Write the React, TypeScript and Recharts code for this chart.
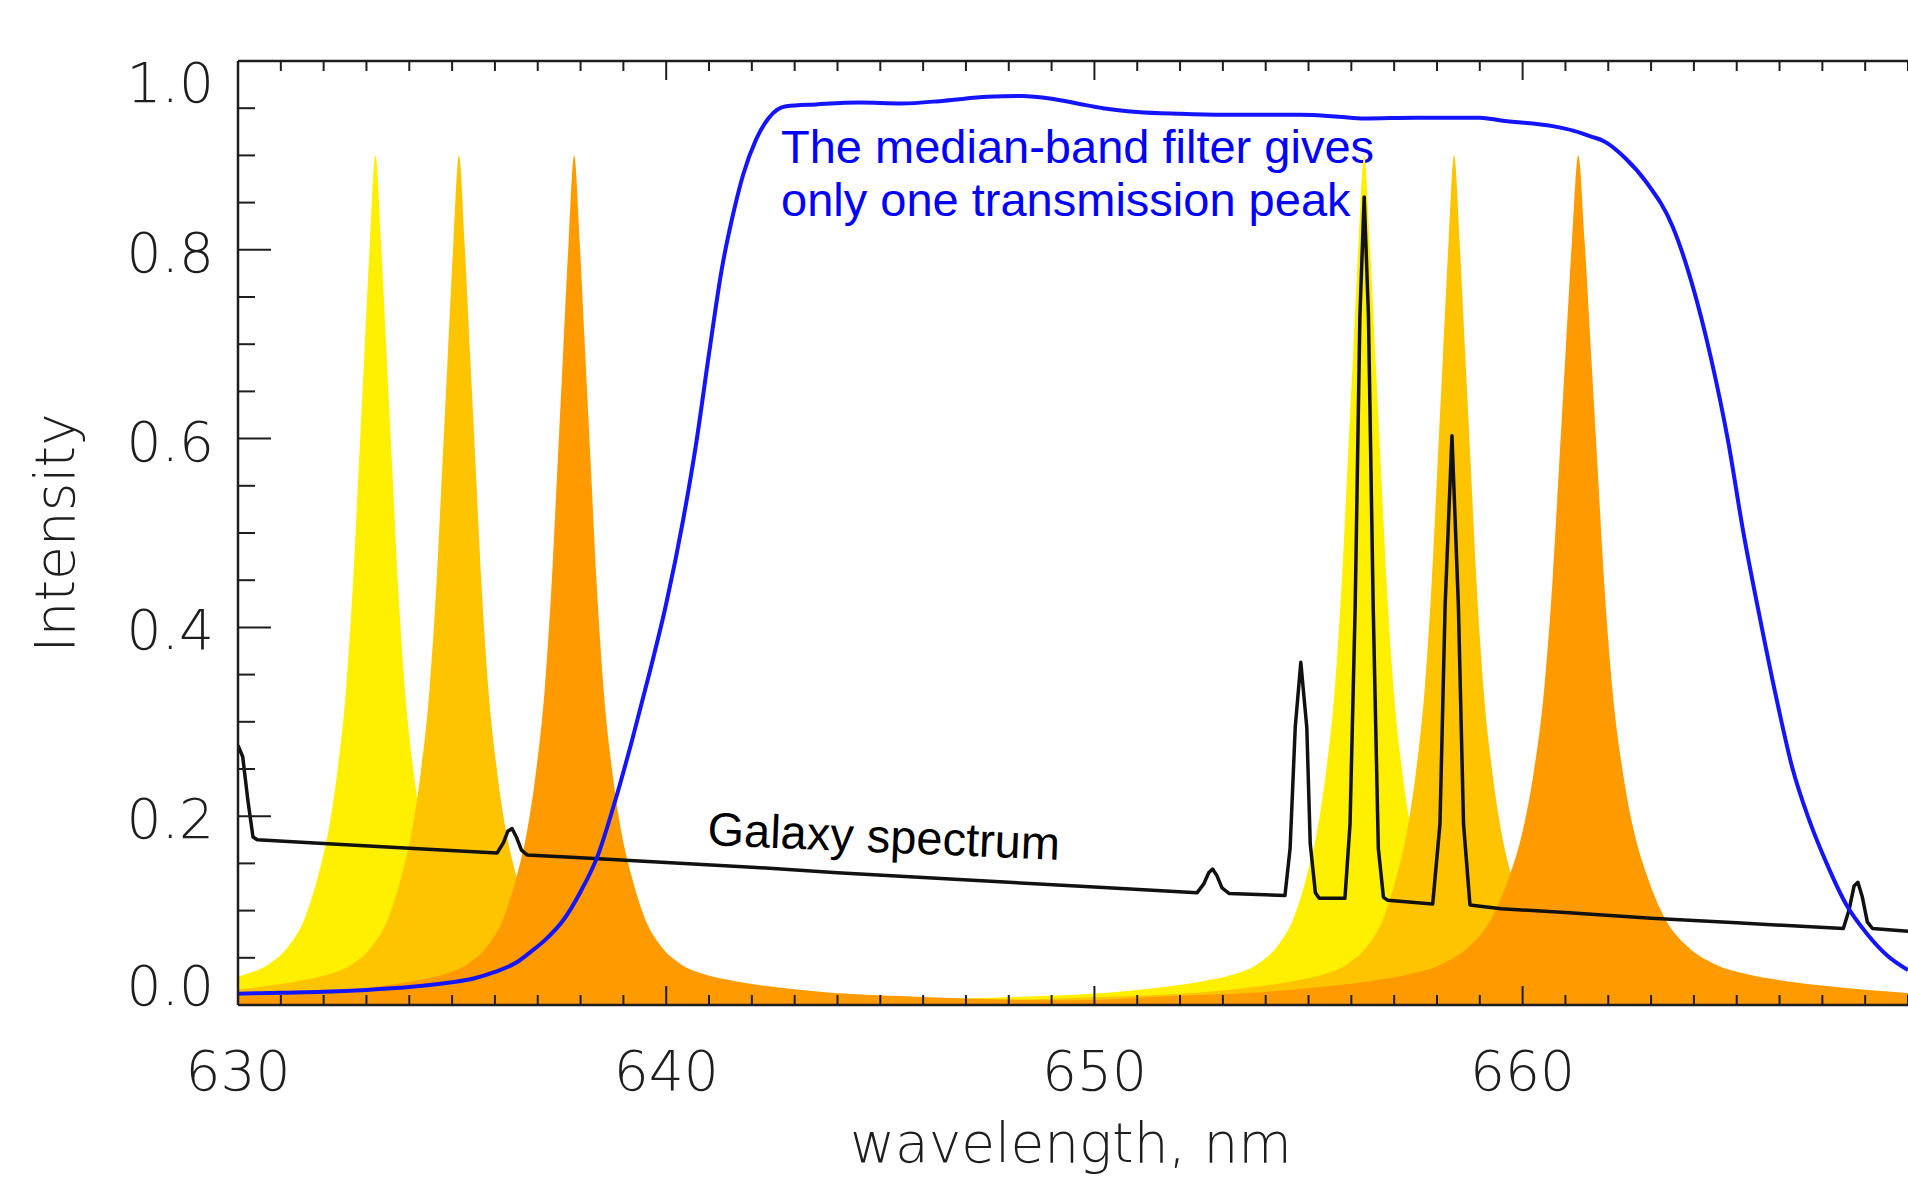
import React from 'react';
import { ComposedChart, Area, Line, XAxis, YAxis } from 'recharts';

// ---------- tick labels ----------
const wavelengthTicks = [
  630, 631, 632, 633, 634, 635, 636, 637, 638, 639,
  640, 641, 642, 643, 644, 645, 646, 647, 648, 649,
  650, 651, 652, 653, 654, 655, 656, 657, 658, 659,
  660, 661, 662, 663, 664, 665, 666, 667, 668, 669,
];
const wavelengthMajor = [630, 640, 650, 660];
const intensityTicks = [
  0, 0.05, 0.1, 0.15, 0.2, 0.25, 0.3, 0.35, 0.4, 0.45, 0.5,
  0.55, 0.6, 0.65, 0.7, 0.75, 0.8, 0.85, 0.9, 0.95, 1,
];
const intensityMajor = [0, 0.2, 0.4, 0.6, 0.8, 1];

// ---------- series values: [wavelength nm, intensity] ----------
const yellowOrders: [number, number][] = [
  [627.21, 0.013], [628.71, 0.02], [629.41, 0.025], [630.21, 0.033], [630.71, 0.043],
  [631.21, 0.064], [631.56, 0.092], [631.86, 0.135], [632.11, 0.184], [632.31, 0.244],
  [632.52, 0.333], [632.69, 0.451], [632.82, 0.57], [632.95, 0.689], [633.08, 0.808],
  [633.21, 0.9], [633.34, 0.808], [633.47, 0.689], [633.6, 0.57], [633.73, 0.451],
  [633.9, 0.333], [634.11, 0.244], [634.31, 0.184], [634.56, 0.135], [634.86, 0.092],
  [635.21, 0.064], [635.71, 0.043], [636.21, 0.033], [637.01, 0.025], [637.71, 0.02],
  [639.21, 0.013], [640.81, 0.0095], [644.75, 0.005], [648.7, 0.0095], [650.3, 0.013],
  [651.8, 0.02], [652.5, 0.025], [653.3, 0.033], [653.8, 0.043], [654.3, 0.064],
  [654.65, 0.092], [654.95, 0.135], [655.2, 0.184], [655.4, 0.244], [655.61, 0.333],
  [655.78, 0.451], [655.91, 0.57], [656.04, 0.689], [656.17, 0.808], [656.3, 0.9],
  [656.43, 0.808], [656.56, 0.689], [656.69, 0.57], [656.82, 0.451], [656.99, 0.333],
  [657.2, 0.244], [657.4, 0.184], [657.65, 0.135], [657.95, 0.092], [658.3, 0.064],
  [658.8, 0.043], [659.3, 0.033], [660.1, 0.025], [660.8, 0.02], [662.3, 0.013],
  [663.9, 0.0095], [667.8, 0.005], [670.0, 0.0045],
];

const goldOrders: [number, number][] = [
  [627.56, 0.0095], [629.16, 0.013], [630.66, 0.02], [631.36, 0.025], [632.16, 0.033],
  [632.66, 0.043], [633.16, 0.064], [633.51, 0.092], [633.81, 0.135], [634.06, 0.184],
  [634.26, 0.244], [634.47, 0.333], [634.64, 0.451], [634.77, 0.57], [634.9, 0.689],
  [635.03, 0.808], [635.16, 0.9], [635.29, 0.808], [635.42, 0.689], [635.55, 0.57],
  [635.68, 0.451], [635.85, 0.333], [636.06, 0.244], [636.26, 0.184], [636.51, 0.135],
  [636.81, 0.092], [637.16, 0.064], [637.66, 0.043], [638.16, 0.033], [638.96, 0.025],
  [639.66, 0.02], [641.16, 0.013], [642.76, 0.0095], [646.78, 0.005], [650.8, 0.0095],
  [652.4, 0.013], [653.9, 0.02], [654.6, 0.025], [655.4, 0.033], [655.9, 0.043],
  [656.4, 0.064], [656.75, 0.092], [657.05, 0.135], [657.3, 0.184], [657.5, 0.244],
  [657.71, 0.333], [657.88, 0.451], [658.01, 0.57], [658.14, 0.689], [658.27, 0.808],
  [658.4, 0.9], [658.53, 0.808], [658.66, 0.689], [658.79, 0.57], [658.92, 0.451],
  [659.09, 0.333], [659.3, 0.244], [659.5, 0.184], [659.75, 0.135], [660.05, 0.092],
  [660.4, 0.064], [660.9, 0.043], [661.4, 0.033], [662.2, 0.025], [662.9, 0.02],
  [664.4, 0.013], [666.0, 0.0095], [670.0, 0.006],
];

const orangeOrders: [number, number][] = [
  [626.35, 0.005], [630.25, 0.0095], [631.85, 0.013], [633.35, 0.02], [634.05, 0.025],
  [634.85, 0.033], [635.35, 0.043], [635.85, 0.064], [636.2, 0.092], [636.5, 0.135],
  [636.75, 0.184], [636.95, 0.244], [637.16, 0.333], [637.33, 0.451], [637.46, 0.57],
  [637.59, 0.689], [637.72, 0.808], [637.85, 0.9], [637.98, 0.808], [638.11, 0.689],
  [638.24, 0.57], [638.37, 0.451], [638.54, 0.333], [638.75, 0.244], [638.95, 0.184],
  [639.2, 0.135], [639.5, 0.092], [639.85, 0.064], [640.35, 0.043], [640.85, 0.033],
  [641.65, 0.025], [642.35, 0.02], [643.85, 0.013], [645.45, 0.0095], [649.58, 0.005],
  [651.8, 0.0095], [653.7, 0.013], [655.5, 0.02], [656.4, 0.025], [657.4, 0.033],
  [658.1, 0.043], [658.8, 0.064], [659.28, 0.092], [659.68, 0.135], [660.0, 0.184],
  [660.25, 0.244], [660.5, 0.333], [660.7, 0.451], [660.85, 0.57], [661.0, 0.689],
  [661.15, 0.808], [661.3, 0.9], [661.45, 0.808], [661.6, 0.689], [661.75, 0.57],
  [661.9, 0.451], [662.1, 0.333], [662.35, 0.244], [662.6, 0.184], [662.92, 0.135],
  [663.32, 0.092], [663.8, 0.064], [664.5, 0.043], [665.2, 0.033], [666.2, 0.025],
  [667.1, 0.02], [668.9, 0.013], [670.8, 0.0095],
];

const filterTransmission: [number, number][] = [
  [630.0, 0.012], [631.0, 0.013], [632.0, 0.014], [633.0, 0.016], [634.0, 0.019],
  [635.0, 0.024], [635.5, 0.028], [636.0, 0.035], [636.5, 0.045], [636.8, 0.055],
  [637.2, 0.07], [637.6, 0.09], [638.0, 0.12], [638.4, 0.158], [638.8, 0.215],
  [639.2, 0.28], [639.6, 0.35], [640.0, 0.425], [640.4, 0.515], [640.7, 0.595],
  [641.0, 0.69], [641.3, 0.78], [641.6, 0.845], [641.8, 0.88], [642.1, 0.917],
  [642.4, 0.94], [642.8, 0.952], [643.5, 0.954], [644.5, 0.956], [645.5, 0.955],
  [646.5, 0.958], [647.5, 0.962], [648.3, 0.963], [649.0, 0.96], [649.6, 0.955],
  [650.2, 0.95], [651.0, 0.946], [652.0, 0.944], [653.0, 0.943], [654.0, 0.943],
  [654.8, 0.943], [655.7, 0.941], [656.3, 0.939], [657.5, 0.94], [659.0, 0.94],
  [659.5, 0.937], [660.7, 0.931], [661.2, 0.926], [661.6, 0.92], [661.9, 0.915],
  [662.4, 0.897], [662.9, 0.871], [663.5, 0.825], [663.95, 0.765], [664.4, 0.685],
  [664.8, 0.597], [665.15, 0.502], [665.55, 0.408], [665.95, 0.32], [666.3, 0.251],
  [666.7, 0.195], [667.1, 0.15], [667.55, 0.107], [668.05, 0.075], [668.5, 0.053],
  [669.0, 0.037],
];

const galaxySpectrum: [number, number][] = [
  [630.0, 0.275], [630.11, 0.263], [630.23, 0.217], [630.35, 0.178], [630.45, 0.175],
  [632.0, 0.171], [634.0, 0.166], [636.05, 0.161], [636.2, 0.172], [636.3, 0.184],
  [636.4, 0.187], [636.5, 0.178], [636.62, 0.164], [636.75, 0.159], [638.0, 0.156],
  [640.0, 0.151], [642.0, 0.146], [644.0, 0.14], [646.0, 0.135], [648.0, 0.13],
  [650.0, 0.125], [652.4, 0.119], [652.55, 0.128], [652.67, 0.14], [652.76, 0.144],
  [652.86, 0.137], [652.98, 0.124], [653.15, 0.118], [654.45, 0.116], [654.57, 0.166],
  [654.69, 0.294], [654.82, 0.363], [654.96, 0.294], [655.04, 0.171], [655.16, 0.119],
  [655.25, 0.113], [655.85, 0.113], [655.97, 0.192], [656.09, 0.423], [656.2, 0.73],
  [656.3, 0.856], [656.4, 0.73], [656.51, 0.423], [656.63, 0.166], [656.75, 0.114],
  [656.85, 0.111], [657.9, 0.107], [658.07, 0.192], [658.19, 0.423], [658.35, 0.603],
  [658.5, 0.423], [658.62, 0.192], [658.77, 0.106], [659.5, 0.102], [661.0, 0.098],
  [663.0, 0.092], [665.0, 0.087], [667.49, 0.081], [667.62, 0.1], [667.74, 0.126],
  [667.83, 0.13], [667.93, 0.115], [668.05, 0.088], [668.17, 0.081], [669.0, 0.078],
];

const toPoints = (arr: [number, number][]) => arr.map(([x, y]) => ({ x, y }));

const AXIS_COLOR = '#1e1e1e';
const tickFont = {
  fontFamily: '"DejaVu Sans", "Open Sans", sans-serif',
  fontWeight: 200,
  fontSize: 55,
  fill: '#1e1e1e',
};
const annoFont = '"Liberation Sans", Arial, sans-serif';

const isMajorY = (v: number) => intensityMajor.some((m) => Math.abs(m - v) < 1e-9);

function BottomTick(props: any) {
  const { x, y, payload } = props;
  const v = payload.value;
  const major = wavelengthMajor.includes(v);
  return (
    <g>
      <line x1={x} x2={x} y1={y} y2={y - (major ? 19 : 10)} stroke={AXIS_COLOR} strokeWidth={2} />
      {major && (
        <text x={x} y={y + 85} textAnchor="middle" {...tickFont}>
          {v}
        </text>
      )}
    </g>
  );
}

function TopTick(props: any) {
  const { x, y, payload } = props;
  const major = wavelengthMajor.includes(payload.value);
  return <line x1={x} x2={x} y1={y} y2={y + (major ? 19 : 10)} stroke={AXIS_COLOR} strokeWidth={2} />;
}

function LeftTick(props: any) {
  const { x, y, payload } = props;
  const v = payload.value;
  const major = isMajorY(v);
  let base = y + 22;
  if (v === 0) base = y;
  if (v === 1) base = y + 41;
  return (
    <g>
      <line x1={x} x2={x + (major ? 33 : 17)} y1={y} y2={y} stroke={AXIS_COLOR} strokeWidth={2} />
      {major && (
        <text x={x - 24} y={base} textAnchor="end" {...tickFont}>
          {v.toFixed(1)}
        </text>
      )}
    </g>
  );
}

function RightTick(props: any) {
  const { x, y, payload } = props;
  const major = isMajorY(payload.value);
  return <line x1={x} x2={x - (major ? 33 : 17)} y1={y} y2={y} stroke={AXIS_COLOR} strokeWidth={2} />;
}

export default function App() {
  return (
    <div style={{ position: 'absolute', left: 0, top: 0, width: 1908, height: 1188, background: '#fff', overflow: 'hidden' }}>
      <svg width={1908} height={1188} style={{ position: 'absolute', left: 0, top: 0 }}>
        <text x={781} y={163} fontFamily={annoFont} fontSize={47} fill="#0000ff">
          The median-band filter gives
        </text>
        <text x={781} y={216} fontFamily={annoFont} fontSize={47} fill="#0000ff">
          only one transmission peak
        </text>
      </svg>
      <div style={{ position: 'absolute', left: 0, top: 0 }}>
        <ComposedChart width={1908} height={1188} margin={{ top: 0, right: 0, bottom: 0, left: 0 }}>
          <XAxis
            xAxisId={0}
            dataKey="x"
            type="number"
            domain={[630, 669]}
            allowDataOverflow
            ticks={wavelengthTicks}
            interval={0}
            height={183}
            tickSize={0}
            tickMargin={0}
            tickLine={false}
            tick={<BottomTick />}
            axisLine={{ stroke: AXIS_COLOR, strokeWidth: 2.5 }}
          />
          <XAxis
            xAxisId="top"
            orientation="top"
            dataKey="x"
            type="number"
            domain={[630, 669]}
            allowDataOverflow
            ticks={wavelengthTicks}
            interval={0}
            height={61}
            tickSize={0}
            tickMargin={0}
            tickLine={false}
            tick={<TopTick />}
            axisLine={{ stroke: AXIS_COLOR, strokeWidth: 2.5 }}
          />
          <YAxis
            yAxisId={0}
            type="number"
            domain={[0, 1]}
            allowDataOverflow
            ticks={intensityTicks}
            interval={0}
            width={238}
            tickSize={0}
            tickMargin={0}
            tickLine={false}
            tick={<LeftTick />}
            axisLine={{ stroke: AXIS_COLOR, strokeWidth: 2.5 }}
          />
          <YAxis
            yAxisId="right"
            orientation="right"
            type="number"
            domain={[0, 1]}
            allowDataOverflow
            ticks={intensityTicks}
            interval={0}
            width={0}
            tickSize={0}
            tickMargin={0}
            tickLine={false}
            tick={<RightTick />}
            axisLine={false}
          />
          <Area
            data={toPoints(yellowOrders)}
            dataKey="y"
            type="monotone"
            stroke="none"
            fill="#fff000"
            fillOpacity={1}
            isAnimationActive={false}
            activeDot={false}
          />
          <Area
            data={toPoints(goldOrders)}
            dataKey="y"
            type="monotone"
            stroke="none"
            fill="#ffc400"
            fillOpacity={1}
            isAnimationActive={false}
            activeDot={false}
          />
          <Area
            data={toPoints(orangeOrders)}
            dataKey="y"
            type="monotone"
            stroke="none"
            fill="#ff9b00"
            fillOpacity={1}
            isAnimationActive={false}
            activeDot={false}
          />
          <Line
            data={toPoints(galaxySpectrum)}
            dataKey="y"
            type="linear"
            stroke="#111111"
            strokeWidth={3.5}
            strokeLinejoin="round"
            dot={false}
            activeDot={false}
            isAnimationActive={false}
          />
          <Line
            data={toPoints(filterTransmission)}
            dataKey="y"
            type="monotone"
            stroke="#1414ff"
            strokeWidth={4}
            dot={false}
            activeDot={false}
            isAnimationActive={false}
          />
        </ComposedChart>
      </div>
      <svg width={1908} height={1188} style={{ position: 'absolute', left: 0, top: 0, pointerEvents: 'none' }}>
        <text x={707} y={845} fontFamily={annoFont} fontSize={47} fill="#000" transform="rotate(2.4 707 845)">
          Galaxy spectrum
        </text>
        <text x={1071} y={1162} textAnchor="middle" {...tickFont}>
          wavelength, nm
        </text>
        <text x={74} y={533} textAnchor="middle" transform="rotate(-90 74 533)" {...tickFont}>
          Intensity
        </text>
      </svg>
    </div>
  );
}
